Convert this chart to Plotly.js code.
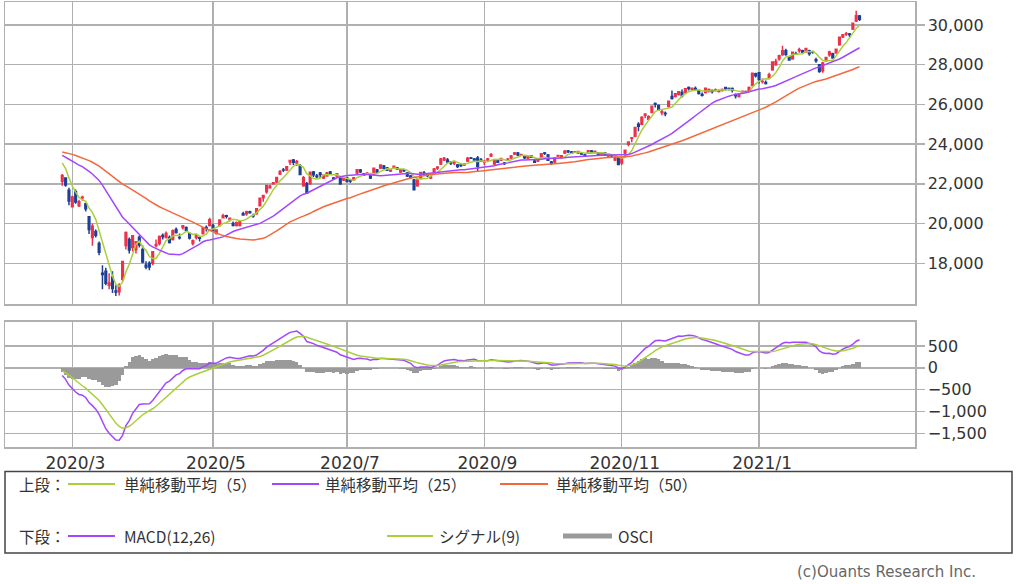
<!DOCTYPE html>
<html><head><meta charset="utf-8">
<script src="https://cdn.plot.ly/plotly-3.0.1.min.js"></script>
<style>html,body{margin:0;padding:0;background:#fff;}#chart{width:1024px;height:584px;}</style>
</head><body><div id="chart"></div>
<script>
// trading days shown (Feb 26, 2020 - Feb 17, 2021)
const dates = [
'2020-02-26','2020-02-27','2020-02-28',
'2020-03-02','2020-03-03','2020-03-04','2020-03-05','2020-03-06','2020-03-09','2020-03-10','2020-03-11','2020-03-12','2020-03-13','2020-03-16','2020-03-17','2020-03-18','2020-03-19','2020-03-23','2020-03-24','2020-03-25','2020-03-26','2020-03-27','2020-03-30','2020-03-31',
'2020-04-01','2020-04-02','2020-04-03','2020-04-06','2020-04-07','2020-04-08','2020-04-09','2020-04-10','2020-04-13','2020-04-14','2020-04-15','2020-04-16','2020-04-17','2020-04-20','2020-04-21','2020-04-22','2020-04-23','2020-04-24','2020-04-27','2020-04-28','2020-04-30',
'2020-05-01','2020-05-07','2020-05-08','2020-05-11','2020-05-12','2020-05-13','2020-05-14','2020-05-15','2020-05-18','2020-05-19','2020-05-20','2020-05-21','2020-05-22','2020-05-25','2020-05-26','2020-05-27','2020-05-28','2020-05-29',
'2020-06-01','2020-06-02','2020-06-03','2020-06-04','2020-06-05','2020-06-08','2020-06-09','2020-06-10','2020-06-11','2020-06-12','2020-06-15','2020-06-16','2020-06-17','2020-06-18','2020-06-19','2020-06-22','2020-06-23','2020-06-24','2020-06-25','2020-06-26','2020-06-29','2020-06-30',
'2020-07-01','2020-07-02','2020-07-03','2020-07-06','2020-07-07','2020-07-08','2020-07-09','2020-07-10','2020-07-13','2020-07-14','2020-07-15','2020-07-16','2020-07-17','2020-07-20','2020-07-21','2020-07-22','2020-07-27','2020-07-28','2020-07-29','2020-07-30','2020-07-31',
'2020-08-03','2020-08-04','2020-08-05','2020-08-06','2020-08-07','2020-08-11','2020-08-12','2020-08-13','2020-08-14','2020-08-17','2020-08-18','2020-08-19','2020-08-20','2020-08-21','2020-08-24','2020-08-25','2020-08-26','2020-08-27','2020-08-28','2020-08-31',
'2020-09-01','2020-09-02','2020-09-03','2020-09-04','2020-09-07','2020-09-08','2020-09-09','2020-09-10','2020-09-11','2020-09-14','2020-09-15','2020-09-16','2020-09-17','2020-09-18','2020-09-23','2020-09-24','2020-09-25','2020-09-28','2020-09-29','2020-09-30',
'2020-10-02','2020-10-05','2020-10-06','2020-10-07','2020-10-08','2020-10-09','2020-10-12','2020-10-13','2020-10-14','2020-10-15','2020-10-16','2020-10-19','2020-10-20','2020-10-21','2020-10-22','2020-10-23','2020-10-26','2020-10-27','2020-10-28','2020-10-29','2020-10-30',
'2020-11-02','2020-11-04','2020-11-05','2020-11-06','2020-11-09','2020-11-10','2020-11-11','2020-11-12','2020-11-13','2020-11-16','2020-11-17','2020-11-18','2020-11-19','2020-11-20','2020-11-24','2020-11-25','2020-11-26','2020-11-27','2020-11-30',
'2020-12-01','2020-12-02','2020-12-03','2020-12-04','2020-12-07','2020-12-08','2020-12-09','2020-12-10','2020-12-11','2020-12-14','2020-12-15','2020-12-16','2020-12-17','2020-12-18','2020-12-21','2020-12-22','2020-12-23','2020-12-24','2020-12-25','2020-12-28','2020-12-29','2020-12-30',
'2021-01-04','2021-01-05','2021-01-06','2021-01-07','2021-01-08','2021-01-12','2021-01-13','2021-01-14','2021-01-15','2021-01-18','2021-01-19','2021-01-20','2021-01-21','2021-01-22','2021-01-25','2021-01-26','2021-01-27','2021-01-28','2021-01-29',
'2021-02-01','2021-02-02','2021-02-03','2021-02-04','2021-02-05','2021-02-08','2021-02-09','2021-02-10','2021-02-12','2021-02-15','2021-02-16','2021-02-17'
];
const opens = [
22130,22300,21680,
20850,21600,20900,21300,21000,20340,19300,19600,19000,17500,17600,16900,17300,16600,16570,17200,18900,19200,18800,18700,19300,
18700,17900,18000,18000,18900,19000,19400,19300,19300,19200,19700,19300,19800,19800,19500,19000,19300,19300,19500,19800,19900,
19900,19500,19900,20300,20400,20200,20000,19900,19900,20500,20500,20600,20400,20500,20900,21300,21600,21800,
22000,22100,22500,22700,22700,23100,23200,23050,22900,21900,22000,22000,22600,22400,22550,22300,22400,22600,22300,22400,22300,22200,
22300,22200,22200,22550,22700,22500,22500,22400,22500,22700,22800,22900,22800,22650,22800,22800,22600,22700,22550,22400,22200,
21900,22300,22550,22500,22300,22500,22800,23000,23200,23200,23100,23050,22950,22950,22950,23150,23300,23250,23300,23200,
23100,23200,23400,23000,23200,23200,23050,23200,23300,23500,23550,23450,23400,23300,23400,23150,23150,23350,23550,23450,
23100,23100,23400,23300,23550,23650,23600,23600,23550,23550,23450,23550,23650,23600,23550,23500,23550,23400,23450,23200,23300,
23050,23550,24000,24300,24400,25000,25000,25450,25250,25600,26050,25950,25600,25550,25900,26400,26400,26500,26600,
26600,26850,26750,26800,26700,26500,26600,26650,26700,26700,26650,26700,26850,26800,26800,26500,26400,26650,26650,26700,26950,27550,
27600,27150,27100,27350,27750,28000,28300,28500,28700,28400,28300,28550,28700,28700,28650,28700,28650,28250,28000,
27700,28200,28500,28550,28600,29000,29400,29550,29550,29800,30200,30450
];
const highs = [
22500,22320,21800,
21400,21720,21200,21400,21050,20350,20000,19700,19100,17900,17780,17500,17600,16900,17000,18100,19600,19300,19400,19100,19400,
18900,18100,18100,18600,19200,19400,19500,19600,19400,19700,19800,19500,19920,19850,19550,19200,19450,19350,19800,19900,20300,
19990,19700,20200,20500,20450,20300,20100,20100,20150,20600,20650,20650,20500,20750,21300,21450,21950,21950,
22100,22350,22700,22800,22900,23180,23250,23200,23000,22400,22100,22600,22650,22500,22600,22500,22600,22650,22350,22550,22300,22350,
22350,22250,22350,22750,22750,22550,22600,22450,22800,22750,22950,22950,22850,22750,22900,22850,22750,22750,22600,22450,22250,
22200,22600,22650,22550,22400,22800,22900,23300,23350,23300,23150,23150,23000,23000,23050,23350,23350,23300,23400,23300,
23200,23300,23550,23250,23250,23300,23100,23300,23450,23600,23600,23500,23450,23400,23450,23200,23250,23550,23600,23500,
23150,23350,23450,23450,23700,23700,23650,23650,23650,23600,23500,23700,23700,23650,23600,23550,23600,23500,23500,23400,23350,
23300,23700,24150,24350,24850,25100,25400,25550,25450,25950,26100,26000,25750,25650,26200,26700,26550,26650,26750,
26800,26900,26850,26900,26750,26600,26850,26800,26750,26800,26750,26800,26850,26850,26850,26550,26550,26700,26700,26900,27600,27600,
27600,27300,27200,27600,28150,28300,28500,28950,28800,28450,28650,28650,28850,28750,28850,28750,28700,28350,28000,
28150,28400,28700,28600,28800,29400,29550,29650,29600,30100,30714,30500
];
const lows = [
21900,21850,20920,
20830,21000,20830,21150,20610,19470,18890,19300,18400,16690,16900,16700,16500,16360,16380,17100,18700,18500,18600,18500,18800,
18000,17700,17650,17900,18800,18900,19200,19250,19000,19150,19500,19200,19700,19600,19200,18900,19200,19100,19450,19600,19850,
19600,19450,19850,20250,20250,20100,19850,19850,19850,20400,20400,20500,20300,20450,20900,21100,21500,21750,
21950,22050,22450,22600,22650,22950,22950,22900,22450,21850,21500,21950,22350,22300,22300,22250,22400,22450,22200,22350,21950,22150,
22100,22050,22150,22500,22550,22400,22450,22250,22450,22550,22750,22750,22650,22600,22750,22700,22550,22600,22350,22250,21700,
21850,22250,22450,22350,22250,22450,22700,22950,23150,23050,22950,22950,22800,22850,22900,23100,23250,23150,22600,23100,
22950,23150,23350,22950,23050,23150,22950,23150,23250,23450,23400,23400,23250,23250,23300,23050,23100,23300,23450,23150,
22950,23050,23350,23250,23500,23550,23500,23550,23500,23450,23350,23500,23550,23550,23450,23450,23450,23350,23350,23150,22950,
22950,23400,23900,24100,24350,24650,24950,25300,25200,25550,25850,25700,25450,25400,25850,26250,26350,26450,26350,
26550,26700,26700,26700,26500,26400,26550,26600,26550,26650,26600,26650,26700,26700,26600,26300,26350,26550,26600,26650,26950,27350,
27050,27050,27000,27300,27700,27950,28200,28450,28450,28200,28250,28500,28600,28600,28600,28450,28550,28100,27600,
27600,28150,28400,28300,28550,28950,29350,29450,29400,29750,30150,30200
];
const closes = [
22426,21948,21142,
21344,21082,21100,21329,20749,19698,19867,19416,18559,17431,17002,17011,16726,16552,16887,18092,19546,18664,19389,19084,18917,
18065,17818,17820,18576,18950,19353,19345,19498,19043,19638,19550,19290,19897,19669,19280,19137,19429,19262,19783,19771,20193,
19619,19674,20179,20390,20366,20267,19914,20037,20133,20433,20595,20552,20388,20741,21271,21419,21916,21877,
22062,22325,22613,22695,22863,23178,23091,23124,22472,22305,21530,22582,22455,22355,22478,22437,22549,22534,22259,22512,21995,22288,
22121,22145,22306,22714,22614,22438,22529,22290,22784,22587,22945,22770,22696,22717,22884,22751,22715,22657,22397,22339,21710,
22195,22573,22514,22418,22329,22750,22843,23249,23289,23096,23051,23110,22880,22920,22985,23296,23290,23208,22882,23139,
23138,23247,23465,23205,23089,23274,23032,23235,23406,23559,23454,23475,23319,23360,23346,23087,23204,23511,23539,23185,
23029,23312,23433,23422,23647,23619,23558,23601,23626,23507,23410,23671,23567,23639,23474,23516,23494,23485,23418,23331,22977,
23295,23695,24105,24325,24839,24905,25349,25520,25385,25906,26014,25728,25634,25527,26165,26296,26537,26644,26433,
26787,26800,26809,26751,26547,26467,26817,26756,26652,26732,26687,26757,26806,26763,26714,26436,26524,26668,26656,26854,27568,27444,
27258,27158,27055,27490,28139,28164,28456,28698,28519,28242,28633,28523,28756,28631,28822,28546,28635,28197,27663,
28091,28362,28646,28341,28779,29388,29505,29562,29520,30084,30467,30292
];
// closes before the window (Nov 1, 2019 - Feb 25, 2020), needed for the moving averages / MACD at the left edge
const histCloses = [
22851,23252,23304,23330,23392,23332,23520,23320,23142,23303,23417,23293,23149,23039,23113,23293,23373,23438,23409,23294,
23530,23380,23135,23300,23354,23431,23410,23392,23425,24023,23952,24066,23934,23865,23817,23821,23831,23783,23925,23838,23657,
23205,23576,23205,23740,23851,24025,23917,23933,24041,24084,23865,24031,23795,23827,23344,23216,23379,22978,23205,
22972,23085,23320,23874,23828,23686,23861,23828,23688,23523,23194,23401,23479,23387,22605
];
const tickDates = ['2020-03-02','2020-05-01','2020-07-01','2020-09-01','2020-11-02','2021-01-04'];
const tickLabels = ['2020/3','2020/5','2020/7','2020/9','2020/11','2021/1'];
const priceTicks = [18000,20000,22000,24000,26000,28000,30000];
const macdTicks = [-1500,-1000,-500,0,500];
const legendTop = ['上段：','単純移動平均（5）','単純移動平均（25）','単純移動平均（50）'];
const legendBottom = ['下段：','MACD(12,26)','シグナル(9)','OSCI'];
const credit = '(c)Ouants Research Inc.';

// indicators derived from the closes
const all = histCloses.concat(closes);
const H0 = histCloses.length;
function sma(n){
  return closes.map((_, i) => { const k = H0 + i; let s = 0; for (let j = k - n + 1; j <= k; j++) s += all[j]; return s / n; });
}
function ema(arr, n){
  const a = 2 / (n + 1); const out = []; let e = arr[0];
  arr.forEach((v, i) => { e = i === 0 ? v : a * v + (1 - a) * e; out.push(e); });
  return out;
}
const ma5 = sma(5), ma25 = sma(25), ma50 = sma(50);
const e12 = ema(all, 12), e26 = ema(all, 26);
const macdAll = e12.map((v, i) => v - e26[i]);
const sigAll = ema(macdAll, 9);
const macd = macdAll.slice(H0), signal = sigAll.slice(H0);
const osci = macd.map((v, i) => v - signal[i]);

const C_UP = '#ee3048', C_DN = '#1c3f96', C_G = '#a9cf3b', C_P = '#a347ff', C_O = '#f4683c', C_GRAY = '#9a9a9a';
const GRID = '#b0b0b0';

const traces = [
  {type:'candlestick', x:dates, open:opens, high:highs, low:lows, close:closes, xaxis:'x', yaxis:'y',
   increasing:{line:{color:C_UP,width:1.5}, fillcolor:C_UP}, decreasing:{line:{color:C_DN,width:1.5}, fillcolor:C_DN},
   whiskerwidth:0, hoverinfo:'skip'},
  {type:'scatter', mode:'lines', x:dates, y:ma5, line:{color:C_G,width:1.5}, xaxis:'x', yaxis:'y'},
  {type:'scatter', mode:'lines', x:dates, y:ma25, line:{color:C_P,width:1.5}, xaxis:'x', yaxis:'y'},
  {type:'scatter', mode:'lines', x:dates, y:ma50, line:{color:C_O,width:1.5}, xaxis:'x', yaxis:'y'},
  {type:'bar', x:dates, y:osci, marker:{color:C_GRAY, line:{width:0}}, xaxis:'x2', yaxis:'y2'},
  {type:'scatter', mode:'lines', x:dates, y:macd, line:{color:C_P,width:1.5}, xaxis:'x2', yaxis:'y2'},
  {type:'scatter', mode:'lines', x:dates, y:signal, line:{color:C_G,width:1.5}, xaxis:'x2', yaxis:'y2'}
];

const W = 1024, Hh = 584;
const px = v => v / W, py = v => (Hh - v) / Hh;
const xRange = [-17.09, 254.55];
const xCommon = {type:'category', domain:[px(5), px(915)], range:xRange, tickmode:'array', tickvals:tickDates,
  showgrid:true, gridcolor:GRID, gridwidth:1.5, showline:true, mirror:true, linecolor:GRID, linewidth:1.5,
  zeroline:false, ticks:'', fixedrange:true};
const yFont = {family:'DejaVu Sans', size:16, color:'#333'};
const yCommon = {side:'right', tickmode:'array', ticks:'outside', ticklen:8, tickwidth:1.5, tickcolor:GRID,
  showgrid:true, gridcolor:GRID, gridwidth:1.5, showline:true, mirror:true, linecolor:GRID, linewidth:1.5,
  zeroline:false, tickformat:',d', tickfont:yFont, fixedrange:true};

const shapes = [
  {type:'rect', xref:'paper', yref:'paper', x0:px(5), x1:px(1012), y0:py(553), y1:py(471.5), line:{color:'#444', width:1.5}, fillcolor:'rgba(0,0,0,0)'},
  {type:'line', xref:'paper', yref:'paper', x0:px(68), x1:px(115), y0:py(484), y1:py(484), line:{color:C_G, width:2}},
  {type:'line', xref:'paper', yref:'paper', x0:px(272), x1:px(319), y0:py(484), y1:py(484), line:{color:C_P, width:2}},
  {type:'line', xref:'paper', yref:'paper', x0:px(500), x1:px(548), y0:py(484), y1:py(484), line:{color:C_O, width:2}},
  {type:'line', xref:'paper', yref:'paper', x0:px(68), x1:px(115), y0:py(536), y1:py(536), line:{color:C_P, width:2}},
  {type:'line', xref:'paper', yref:'paper', x0:px(387), x1:px(433), y0:py(536), y1:py(536), line:{color:C_G, width:2}},
  {type:'line', xref:'paper', yref:'paper', x0:px(563), x1:px(612), y0:py(536), y1:py(536), line:{color:C_GRAY, width:5}}
];
const jp = {family:'"Noto Sans CJK JP", "Noto Sans", sans-serif', size:15.5, color:'#333'};
const ann = (t, x, y, f) => ({text:t, xref:'paper', yref:'paper', x:px(x), y:py(y), xanchor:'left', yanchor:'middle', showarrow:false, font:f});
const annotations = [
  ann(legendTop[0], 17, 484, jp), ann(legendTop[1], 122, 484, jp), ann(legendTop[2], 323, 484, jp), ann(legendTop[3], 554, 484, jp),
  ann(legendBottom[0], 17, 536, jp), ann(legendBottom[1], 122, 536, jp), ann(legendBottom[2], 437, 536, jp), ann(legendBottom[3], 616, 536, jp),
  ann(credit, 795, 572, {family:'DejaVu Sans', size:15, color:'#666'})
];

const layout = {
  width:W, height:Hh, margin:{l:0,r:0,t:0,b:0}, paper_bgcolor:'#fff', plot_bgcolor:'#fff',
  showlegend:false, bargap:0, font:{family:'DejaVu Sans', color:'#333'},
  xaxis:Object.assign({}, xCommon, {anchor:'y', showticklabels:false, rangeslider:{visible:false}}),
  xaxis2:Object.assign({}, xCommon, {anchor:'y2', showticklabels:true, ticktext:tickLabels, ticklabelshift:3,
    tickfont:{family:'DejaVu Sans', size:17, color:'#333'}}),
  yaxis:Object.assign({}, yCommon, {anchor:'x', domain:[py(304), py(2)], range:[15951, 31158], tickvals:priceTicks}),
  yaxis2:Object.assign({}, yCommon, {anchor:'x2', domain:[py(447.3), py(321.7)], range:[-1821, 1056], tickvals:macdTicks}),
  shapes:shapes, annotations:annotations
};
Plotly.newPlot('chart', traces, layout, {staticPlot:true, displayModeBar:false});
</script>
</body></html>
